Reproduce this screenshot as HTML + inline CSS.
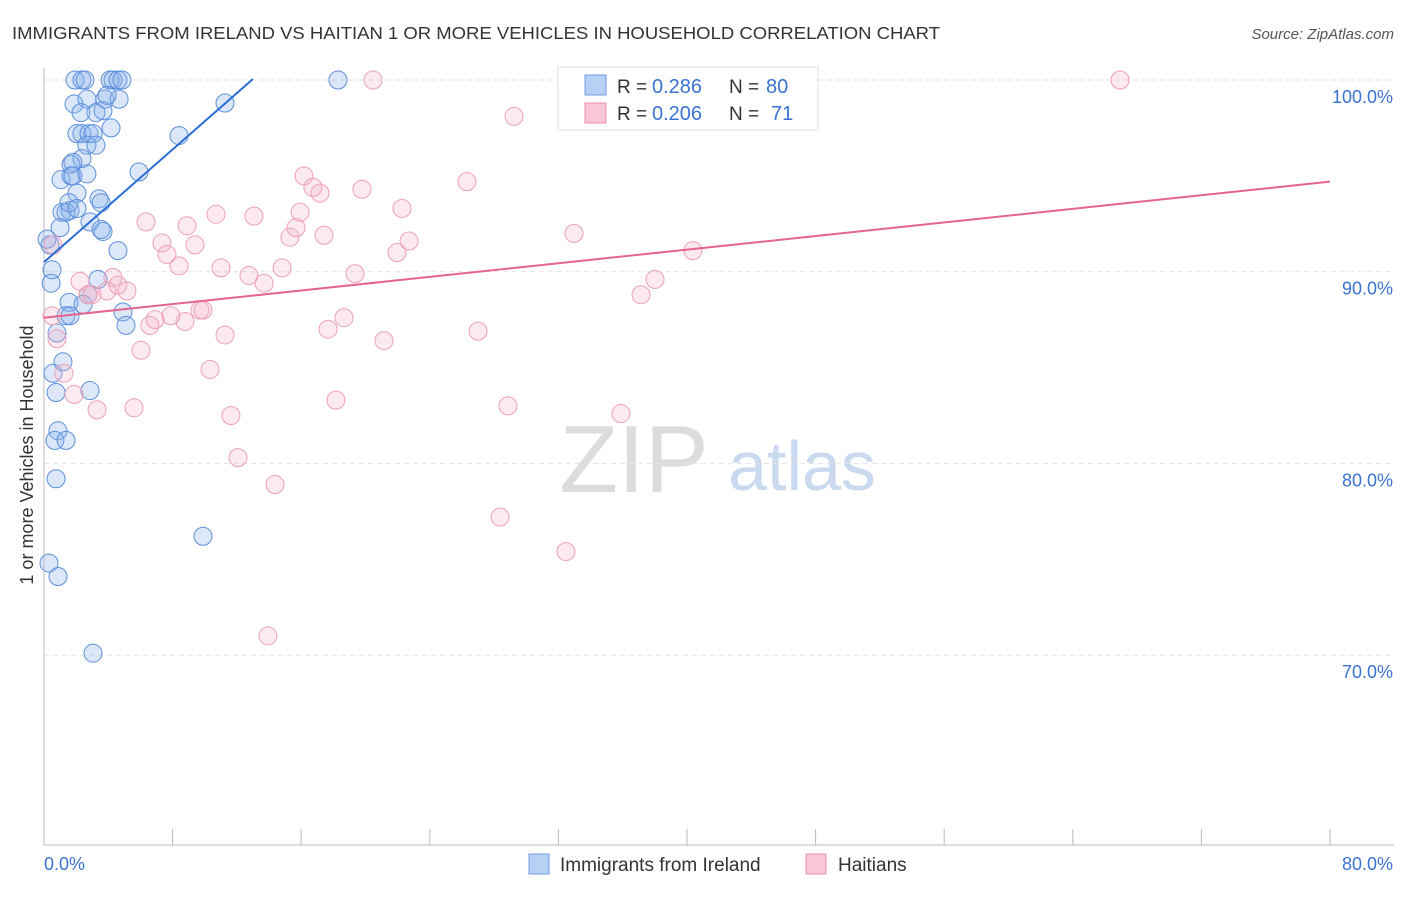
<!DOCTYPE html>
<html><head><meta charset="utf-8"><style>
body{margin:0;background:#fff;font-family:"Liberation Sans",sans-serif;}
svg text{font-family:"Liberation Sans",sans-serif;}
</style></head><body>
<svg id="chart" width="1406" height="892" viewBox="0 0 1406 892">
<text x="12" y="39" font-size="17.5" fill="#333" textLength="928" lengthAdjust="spacingAndGlyphs">IMMIGRANTS FROM IRELAND VS HAITIAN 1 OR MORE VEHICLES IN HOUSEHOLD CORRELATION CHART</text>
<text x="1394" y="39" font-size="15" fill="#555" font-style="italic" text-anchor="end">Source: ZipAtlas.com</text>
<text x="33" y="455" font-size="18" fill="#333" text-anchor="middle" transform="rotate(-90 33 455)">1 or more Vehicles in Household</text>
<g>
<text x="634" y="492" font-size="96" fill="#dcdcdc" font-family="Liberation Serif,serif" text-anchor="middle">ZIP</text>
<text x="802" y="490" font-size="70" fill="#c9d9ef" text-anchor="middle">atlas</text>
</g>
<g id="grid"></g>
<g id="axes"></g>
<g id="pts"></g>
<g id="lines"></g>
<g>
<rect x="558" y="67" width="260" height="63" fill="#fff" stroke="#ddd"/>
<rect x="585" y="75" width="21" height="20" fill="#b8d0f3" stroke="#6d9de0"/>
<rect x="585" y="103" width="21" height="20" fill="#f9c6d5" stroke="#ec8fab"/>
<text x="617" y="93" font-size="19" fill="#333">R =</text>
<text x="652" y="93" font-size="20" fill="#3a73d1">0.286</text>
<text x="729" y="93" font-size="19" fill="#333">N =</text>
<text x="766" y="93" font-size="20" fill="#3a73d1">80</text>
<text x="617" y="120" font-size="19" fill="#333">R =</text>
<text x="652" y="120" font-size="20" fill="#3a73d1">0.206</text>
<text x="729" y="120" font-size="19" fill="#333">N =</text>
<text x="771" y="120" font-size="20" fill="#3a73d1">71</text>
</g>
<g>
<rect x="529" y="854" width="20" height="20" fill="#b8d0f3" stroke="#6d9de0"/>
<text x="560" y="871" font-size="19" fill="#333">Immigrants from Ireland</text>
<rect x="806" y="854" width="20" height="20" fill="#f9c6d5" stroke="#ec8fab"/>
<text x="838" y="871" font-size="19" fill="#333">Haitians</text>
</g>
</svg>
<script>
const yTicks=[100,90,80,70];
const xTickLabels=["0.0%","80.0%"];
const blueX=[1.93,2.36,2.55,4.11,4.29,4.60,4.85,18.29,1.87,2.67,3.79,4.67,3.23,3.67,2.30,3.92,4.17,2.05,2.36,2.80,3.05,2.67,3.23,8.40,11.26,2.36,1.68,1.80,1.06,1.68,1.80,2.67,5.91,2.05,3.42,3.55,1.12,1.62,1.37,1.56,2.05,2.86,3.67,3.55,1.00,4.60,0.37,0.19,0.50,0.44,3.36,1.56,2.43,1.37,1.62,4.91,5.10,2.74,0.81,0.56,1.18,0.75,2.86,0.87,0.68,1.37,0.75,9.89,0.31,0.87,3.05];
const blueY=[100,100,100,100,100,100,100,100,98.75,99.0,99.0,99.0,98.3,98.4,98.3,99.2,97.5,97.2,97.2,97.2,97.2,96.6,96.6,97.1,98.8,95.9,95.6,95.7,94.8,95.0,95.0,95.1,95.2,94.1,93.8,93.6,93.1,93.2,93.1,93.6,93.3,92.6,92.1,92.2,92.3,91.1,91.4,91.7,90.1,89.4,89.6,88.4,88.3,87.7,87.7,87.9,87.2,88.8,86.8,84.7,85.3,83.7,83.8,81.7,81.2,81.2,79.2,76.2,74.8,74.1,70.1];
const pinkX=[0.56,0.50,0.81,1.24,1.87,3.30,2.24,2.74,4.29,3.92,4.60,5.16,2.99,5.60,6.03,6.59,6.91,6.35,7.34,7.65,7.90,8.40,8.77,8.90,9.39,9.70,9.89,10.33,10.70,11.01,11.26,11.63,12.07,12.75,13.06,13.69,14.37,13.93,14.81,15.30,15.68,15.93,16.17,16.73,17.17,17.42,17.67,18.16,18.66,19.35,19.78,20.47,21.15,21.96,22.27,22.71,27.00,26.31,28.37,28.86,29.24,32.47,32.97,35.89,37.14,38.01,40.37,66.94];
const pinkY=[91.4,87.7,86.5,84.7,83.6,82.8,89.5,88.8,89.7,89.0,89.3,89.0,88.8,82.9,85.9,87.2,87.5,92.6,91.5,90.9,87.7,90.3,87.4,92.4,91.4,88.0,88.0,84.9,93.0,90.2,86.7,82.5,80.3,89.8,92.9,89.4,78.9,71.0,90.2,91.8,92.3,93.1,95.0,94.4,94.1,91.9,87.0,83.3,87.6,89.9,94.3,100.0,86.4,91.0,93.3,91.6,86.9,94.7,77.2,83.0,98.1,75.4,92.0,82.6,88.8,89.6,91.1,100.0];
const blueLine=[0,90.5,13.0,100.05];
const pinkLine=[0,87.6,80,94.7];
const NS="http://www.w3.org/2000/svg";
const sx=v=>44+v*16.075, sy=v=>80+(100-v)*19.17;
function mk(t,a,p){const e=document.createElementNS(NS,t);for(const k in a)e.setAttribute(k,a[k]);p.appendChild(e);return e;}
const grid=document.getElementById('grid'),axes=document.getElementById('axes');
yTicks.forEach(t=>{
 const l=mk('line',{x1:44,x2:1394,y1:sy(t),y2:sy(t),stroke:'#e2e2e2','stroke-dasharray':'5,4'},grid);
 
 
 const tx=mk('text',{x:1393,y:sy(t)+23,'font-size':18,fill:'#3a73d1','text-anchor':'end'},axes);
 tx.textContent=t.toFixed(1)+'%';
 
 
});
mk('line',{x1:44,x2:44,y1:68,y2:845,stroke:'#bbb'},axes);
mk('line',{x1:44,x2:1394,y1:845,y2:845,stroke:'#bbb'},axes);
for(let i=0;i<=10;i++){mk('line',{x1:44+i*128.6,x2:44+i*128.6,y1:829,y2:845,stroke:'#bbb'},axes);}
const xl0=mk('text',{x:44,y:870,'font-size':18,fill:'#3a73d1'},axes);xl0.textContent=xTickLabels[0];


const xl1=mk('text',{x:1393,y:870,'font-size':18,fill:'#3a73d1','text-anchor':'end'},axes);xl1.textContent=xTickLabels[1];


const pts=document.getElementById('pts');
blueX.forEach((x,i)=>{const c=mk('circle',{cx:sx(x),cy:sy(blueY[i]),r:9,fill:'rgba(140,180,235,0.3)',stroke:'#5b8fdc','stroke-width':1},pts);
 
 });
pinkX.forEach((x,i)=>{const c=mk('circle',{cx:sx(x),cy:sy(pinkY[i]),r:9,fill:'rgba(245,170,195,0.25)',stroke:'#eea0b8','stroke-width':1},pts);
 
 });
const lines=document.getElementById('lines');
const bl=mk('line',{x1:sx(blueLine[0]),y1:sy(blueLine[1]),x2:sx(blueLine[2]),y2:sy(blueLine[3]),stroke:'#2a6dd4','stroke-width':2},lines);


const pl=mk('line',{x1:sx(pinkLine[0]),y1:sy(pinkLine[1]),x2:sx(pinkLine[2]),y2:sy(pinkLine[3]),stroke:'#e5648f','stroke-width':2},lines);


</script>
</body></html>
